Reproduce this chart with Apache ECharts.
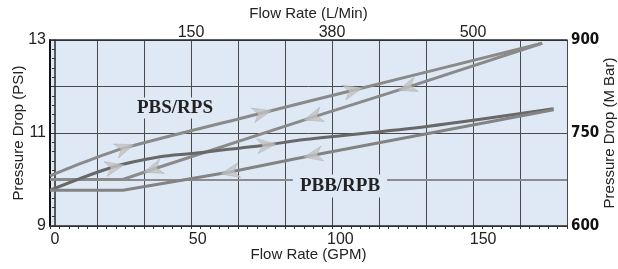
<!DOCTYPE html>
<html>
<head>
<meta charset="utf-8">
<script src="https://cdn.jsdelivr.net/npm/echarts@6/dist/echarts.min.js"></script>
<style>
  html, body { margin: 0; padding: 0; background: #fff; }
  #chart { width: 618px; height: 269px; }
</style>
</head>
<body>
<div id="chart"></div>
<script>
// flow rate (GPM) vs pressure drop (PSI)
const pbsUp = [[-1.75, 10.08], [10.5, 10.38], [24.5, 10.68], [72.6, 11.43], [104.5, 11.92], [170.7, 12.93]]
const pbsDown = [[170.7, 12.93], [123.4, 11.98], [90.4, 11.34], [34.3, 10.22], [23.8, 10.0], [-1.75, 10.0]]
const pbbUp = [[-1.75, 9.77], [20.3, 10.27], [36.8, 10.49], [47.7, 10.56], [74.2, 10.74], [85.9, 10.85], [130.3, 11.14], [174.7, 11.52]]
const pbbDown = [[174.7, 11.5], [90.4, 10.52], [61.3, 10.16], [23.8, 9.77], [-1.75, 9.77]]

// arrow heads sitting on the curves
const pbsUpArrows = [[24.5, 10.68], [72.6, 11.43], [104.5, 11.92]]
const pbsDownArrows = [[123.4, 11.98], [90.4, 11.34], [34.3, 10.22]]
const pbbUpArrows = [[21, 10.27], [74.2, 10.74]]
const pbbDownArrows = [[90.4, 10.52], [61.3, 10.16]]

const gpmTicks = [0, 50, 100, 150]
const psiTicks = [9, 11, 13]
const mbarTicks = [600, 750, 900]
const lpmTickPos = [3, 6, 9]
const lpmTickLabels = ['150', '380', '500']

const plotBg = '#dfe9f5'
const gridColor = '#4a4a4a'
const arrowPath = 'path://M0,0 L14,5 L0,10 L4,5 Z'
const nameFont = { fontFamily: 'Liberation Sans', fontSize: 15, color: '#222' }

const chart = echarts.init(document.getElementById('chart'))

function lineSeries(name, data, color, smooth) {
  return {
    name: name,
    type: 'line',
    xAxisIndex: 0,
    yAxisIndex: 0,
    data: data,
    smooth: smooth,
    showSymbol: false,
    silent: true,
    lineStyle: { color: color, width: 3 },
    z: 3
  }
}

function arrowSeries(name, data) {
  return {
    name: name,
    type: 'scatter',
    xAxisIndex: 0,
    yAxisIndex: 0,
    data: data,
    symbol: arrowPath,
    symbolSize: [19, 15],
    silent: true,
    itemStyle: { color: '#c2c2c2', borderColor: '#aaaaaa', borderWidth: 0.5 },
    z: 5
  }
}

chart.setOption({
  animation: false,
  grid: {
    left: 50, right: 51, top: 40, bottom: 43,
    outerBoundsMode: 'none',
    containLabel: false,
    show: true, backgroundColor: plotBg, borderWidth: 0
  },
  xAxis: [{
    type: 'value',
    min: -1.75,
    max: 179.4,
    position: 'bottom',
    name: 'Flow Rate (GPM)',
    nameLocation: 'middle',
    nameGap: 21,
    nameMoveOverlap: false,
    nameTextStyle: nameFont,
    axisLine: { show: true, lineStyle: { color: '#2a2a2a', width: 1.5 } },
    axisTick: { show: false },
    splitLine: { show: false },
    axisLabel: {
      customValues: gpmTicks,
      fontFamily: 'Liberation Sans', fontSize: 16, color: '#222', margin: 6
    }
  }, {
    type: 'value',
    min: 0,
    max: 11,
    interval: 1,
    position: 'top',
    name: 'Flow Rate (L/Min)',
    nameLocation: 'middle',
    nameGap: 19,
    nameMoveOverlap: false,
    nameTextStyle: nameFont,
    axisLine: { show: true, lineStyle: { color: '#2a2a2a', width: 1.5 } },
    axisTick: { show: false },
    splitLine: { show: true, lineStyle: { color: gridColor, width: 1 } },
    axisLabel: {
      fontFamily: 'Liberation Sans', fontSize: 16, color: '#222', margin: -1,
      formatter: function (v) {
        const i = lpmTickPos.indexOf(v)
        return i >= 0 ? lpmTickLabels[i] : ''
      }
    }
  }, {
    // minor ticks under the bottom edge follow the grid columns
    type: 'value',
    min: 0,
    max: 11,
    interval: 1,
    position: 'bottom',
    axisLine: { show: false },
    axisLabel: { show: false },
    splitLine: { show: false },
    axisTick: { show: true, length: 3, lineStyle: { color: '#333' } },
    minorTick: { show: true, splitNumber: 5, length: 3, lineStyle: { color: '#333' } }
  }],
  yAxis: [{
    type: 'value',
    min: 9,
    max: 13,
    interval: 1,
    position: 'left',
    name: 'Pressure Drop (PSI)',
    nameLocation: 'middle',
    nameGap: 24,
    nameRotate: 90,
    nameMoveOverlap: false,
    nameTextStyle: nameFont,
    axisLine: { show: true, lineStyle: { color: '#2a2a2a', width: 1.5 } },
    axisTick: { show: true, length: 4, lineStyle: { color: '#333' } },
    minorTick: { show: true, splitNumber: 5, length: 3, lineStyle: { color: '#333' } },
    splitLine: { show: true, lineStyle: { color: gridColor, width: 1 } },
    axisLabel: {
      fontFamily: 'Liberation Sans', fontSize: 16, color: '#222', margin: 4,
      formatter: function (v) { return psiTicks.indexOf(v) >= 0 ? String(v) : '' }
    }
  }, {
    type: 'value',
    min: 600,
    max: 900,
    interval: 150,
    position: 'right',
    name: 'Pressure Drop (M Bar)',
    nameLocation: 'middle',
    nameGap: 35,
    nameRotate: 90,
    nameMoveOverlap: false,
    nameTextStyle: nameFont,
    axisLine: { show: true, lineStyle: { color: '#111', width: 2 } },
    axisTick: { show: false },
    splitLine: { show: false },
    axisLabel: {
      fontFamily: '"Liberation Sans Narrow", "Arial Narrow", "DejaVu Sans Condensed", sans-serif',
      fontWeight: 'bold', fontSize: 15, color: '#111', margin: 4,
      formatter: function (v) { return mbarTicks.indexOf(v) >= 0 ? String(v) : '' }
    }
  }],
  series: [
    Object.assign(lineSeries('PBS/RPS', pbsUp, '#8a8a8a', 0.3), {
      markLine: {
        silent: true,
        symbol: 'none',
        label: { show: false },
        lineStyle: { color: '#8c8c8c', width: 2, type: 'solid' },
        data: [{ yAxis: 10 }],
        z: 2
      }
    }),
    lineSeries('PBS/RPS return', pbsDown, '#8a8a8a', false),
    lineSeries('PBB/RPB', pbbUp, '#686868', 0.3),
    lineSeries('PBB/RPB return', pbbDown, '#838383', false),
    arrowSeries('pbsUpArrows', pbsUpArrows),
    arrowSeries('pbsDownArrows', pbsDownArrows),
    arrowSeries('pbbUpArrows', pbbUpArrows),
    arrowSeries('pbbDownArrows', pbbDownArrows)
  ],
  graphic: [{
    type: 'text', x: 175, y: 108, z: 10,
    style: {
      text: 'PBS/RPS', font: 'bold 19px "Liberation Serif"', fill: '#222',
      align: 'center', verticalAlign: 'middle',
      backgroundColor: plotBg, padding: [1, 6]
    }
  }, {
    type: 'text', x: 340, y: 186, z: 10,
    style: {
      text: 'PBB/RPB', font: 'bold 19px "Liberation Serif"', fill: '#222',
      align: 'center', verticalAlign: 'middle',
      backgroundColor: plotBg, padding: [2, 7]
    }
  }]
})

// turn each arrow along its curve (pixel space), reversed on return legs
function arrowData(points, line, back) {
  return points.map(function (p) {
    let k = 0
    for (let i = 0; i < line.length - 1; i++) {
      const a = Math.min(line[i][0], line[i + 1][0])
      const b = Math.max(line[i][0], line[i + 1][0])
      if (p[0] >= a && p[0] <= b) { k = i; break }
    }
    const p0 = chart.convertToPixel({ xAxisIndex: 0, yAxisIndex: 0 }, line[k])
    const p1 = chart.convertToPixel({ xAxisIndex: 0, yAxisIndex: 0 }, line[k + 1])
    let dx = p1[0] - p0[0]
    let dy = p1[1] - p0[1]
    if (dx < 0) { dx = -dx; dy = -dy }
    let ang = Math.atan2(-dy, dx) * 180 / Math.PI
    if (back) ang += 180
    return { value: p, symbolRotate: ang }
  })
}

chart.setOption({
  series: [
    {}, {}, {}, {},
    { data: arrowData(pbsUpArrows, pbsUp, false) },
    { data: arrowData(pbsDownArrows, pbsDown, true) },
    { data: arrowData(pbbUpArrows, pbbUp, false) },
    { data: arrowData(pbbDownArrows, pbbDown, true) }
  ]
})
</script>
</body>
</html>
